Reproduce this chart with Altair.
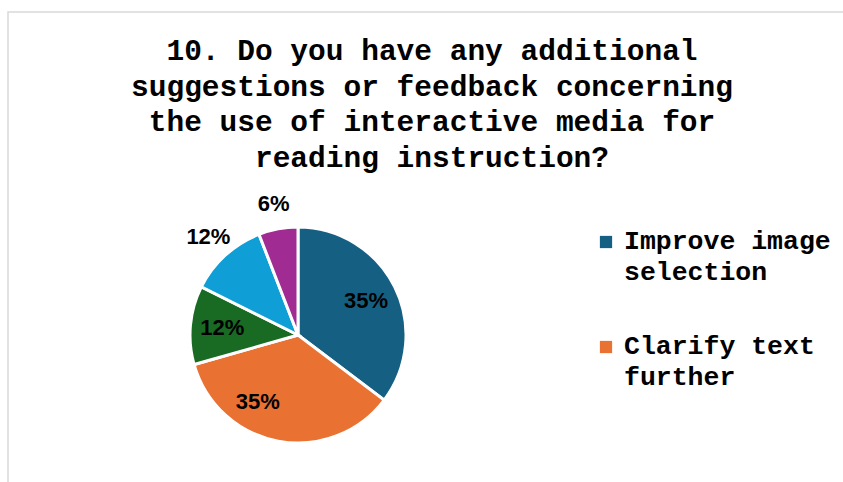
import altair as alt
import pandas as pd

# ---- data ----
categories = [
    "Improve image selection",
    "Clarify text further",
    "Add audio narration",
    "Include more interactive activities",
    "Other",
]
counts = [6, 6, 2, 2, 1]
colors = ["#156082", "#E97132", "#196B24", "#0F9ED5", "#A02B93"]
title_lines = [
    "10. Do you have any additional",
    "suggestions or feedback concerning",
    "the use of interactive media for",
    "reading instruction?",
]
legend_categories = ["Improve image selection", "Clarify text further"]
legend_labels = ["Improve image\nselection", "Clarify text\nfurther"]

df = pd.DataFrame({"category": categories, "count": counts, "idx": list(range(len(categories)))})
legend_df = pd.DataFrame({"category": legend_categories, "label": legend_labels})
one = pd.DataFrame({"k": [0]})

CX, CY, R = 298, 335, 108

color = alt.Color("category:N", scale=alt.Scale(domain=categories, range=colors), legend=None)

base = (
    alt.Chart(df)
    .transform_joinaggregate(total="sum(count)")
    .transform_stack(stack="count", groupby=[], as_=["s0", "s1"], sort=[alt.SortField("idx", order="ascending")])
    .transform_calculate(
        a0="datum.s0 / datum.total * 2 * PI",
        a1="datum.s1 / datum.total * 2 * PI",
        mid="(datum.s0 + datum.s1) / 2 / datum.total * 2 * PI",
        pct="round(datum.count / datum.total * 100) + '%'",
    )
)

frame = alt.Chart(one).mark_rect(fillOpacity=0, stroke="#d9d9d9", strokeWidth=1.5).encode(
    x=alt.value(8), y=alt.value(12), x2=alt.value(900), y2=alt.value(600)
)

pie = base.mark_arc(radius=R, stroke="white", strokeWidth=3).encode(
    theta=alt.Theta("a0:Q", scale=None),
    theta2="a1:Q",
    color=color,
    x=alt.value(CX),
    y=alt.value(CY),
)

label_style = dict(font="Liberation Sans", fontWeight="bold", fontSize=22, color="black")

inner = base.transform_filter("datum.idx == 0 || datum.idx == 2").mark_text(radius=76, **label_style).encode(
    theta=alt.Theta("mid:Q", scale=None), text="pct:N", x=alt.value(CX), y=alt.value(CY)
)
inner_orange = base.transform_filter("datum.idx == 1").mark_text(radius=77, dx=-26, dy=-9, **label_style).encode(
    theta=alt.Theta("mid:Q", scale=None), text="pct:N", x=alt.value(CX), y=alt.value(CY)
)
outer = base.transform_filter("datum.idx >= 3").mark_text(radius=133, **label_style).encode(
    theta=alt.Theta("mid:Q", scale=None), text="pct:N", x=alt.value(CX), y=alt.value(CY)
)

title = alt.Chart(one).mark_text(
    text=title_lines,
    font="Liberation Mono",
    fontWeight="bold",
    fontSize=29.5,
    lineHeight=35.5,
    align="center",
    baseline="alphabetic",
    color="black",
).encode(x=alt.value(432), y=alt.value(60))

leg_y = alt.Y(
    "category:N",
    scale=alt.Scale(type="point", padding=0, domain=legend_categories, range=[242, 347]),
    axis=None,
)
leg_sq = alt.Chart(legend_df).mark_square(size=150, opacity=1).encode(
    x=alt.value(606), y=leg_y, color=color
)
leg_txt = alt.Chart(legend_df).mark_text(
    align="left",
    baseline="alphabetic",
    dy=7,
    font="Liberation Mono",
    fontWeight="bold",
    fontSize=26.5,
    lineHeight=31,
    lineBreak="\n",
    color="black",
).encode(x=alt.value(624), y=leg_y, text="label:N")

chart = (
    alt.layer(frame, pie, inner, inner_orange, outer, title, leg_sq, leg_txt)
    .properties(width=843, height=482, autosize=alt.AutoSizeParams(type="none"), padding=0, background="white")
    .configure_view(stroke=None)
)

chart.save("out.html", embed_options={"renderer": "svg", "actions": False})
